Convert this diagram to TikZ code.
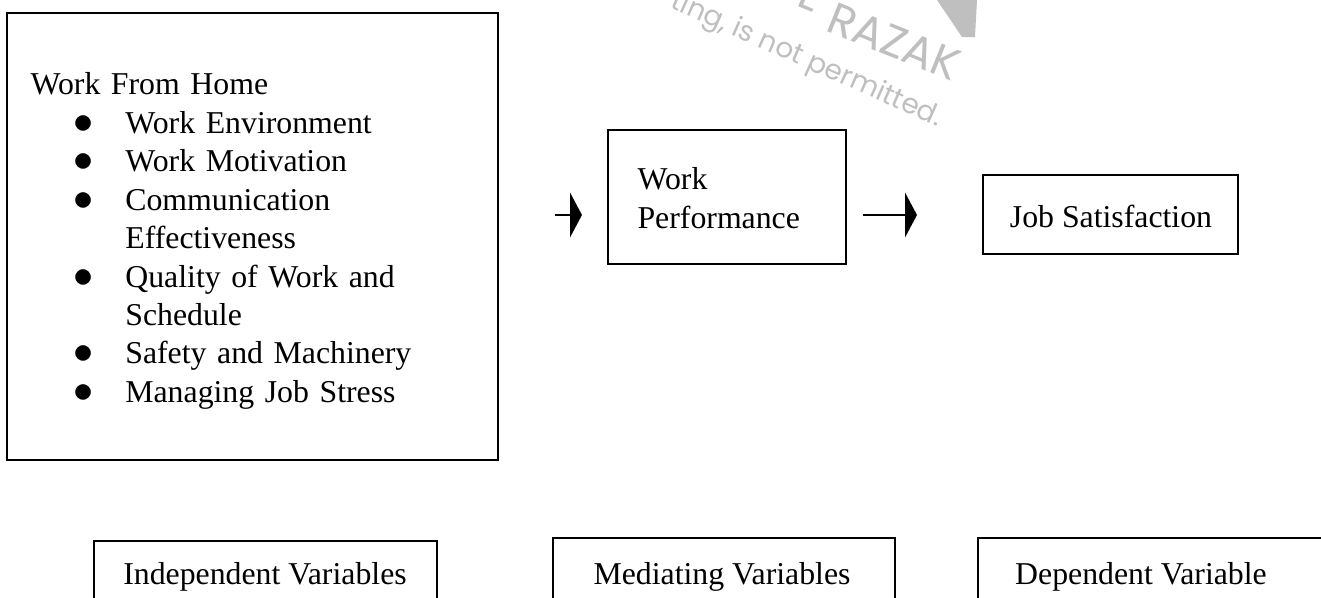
\documentclass[tikz,border=0pt]{standalone}
\usepackage{fontspec}
\setmainfont{Liberation Serif}
\newfontfamily\wmfont{Poppins}
\usepackage{enumitem}
\usetikzlibrary{arrows.meta,fit}

\begin{document}
\begin{tikzpicture}[x=0.0126cm,y=-0.0126cm,
    every node/.style={font=\fontsize{11.4}{13.8}\selectfont},
    box/.style={draw,line width=0.8pt,inner sep=0pt},
    arr/.style={line width=1pt,-{Triangle[length=4.3pt,width=16pt]}},
    wm/.style={color=black!25,rotate=-22,inner sep=0pt}]
  \useasboundingbox (0,0) rectangle (1321,598);

  % watermark
  \fill[color=black!25] (937,0) -- (977,0) -- (975,37) -- (962,37) -- cycle;
  \node[wm,anchor=base east,font=\wmfont\fontsize{16}{18}\selectfont] (wml) at (814,13) {L};
  \node[wm,anchor=base west,font=\wmfont\fontsize{16}{18}\selectfont] (wmr) at (824,30) {RAZAK};
  \node[wm,rotate=-2,anchor=base east,font=\wmfont\fontsize{10}{12}\selectfont] (wmp) at (938,127) {ting, is not permitted.};

  % top row
  \node[box,fit={(7,13) (498,460)}] (wfh) {};
  \node[anchor=north west,text width=165pt,align=left,inner sep=0pt] (wfhtext) at (30,72) {%
    \noindent Work From Home
    \begin{itemize}[leftmargin=34pt,labelwidth=0pt,labelsep=15pt,
        label={\makebox[0pt]{\fontsize{13.5}{13.8}\selectfont$\bullet$}},
        topsep=0pt,partopsep=0pt,itemsep=0pt,parsep=0pt]
      \item Work Environment
      \item Work Motivation
      \item Communication\newline Effectiveness
      \item Quality of Work and\newline Schedule
      \item Safety and Machinery
      \item Managing Job Stress
    \end{itemize}};

  \node[box,fit={(608,130) (846,264)}] (wp) {};
  \node[anchor=west,align=left,inner sep=0pt] (wptext) at (637,198) {Work\\Performance};

  \node[box,fit={(983,175) (1238,254)}] (js) {};
  \node[inner sep=0pt] (jstext) at (1111,216) {Job Satisfaction};

  \coordinate (a1s) at (555,215);
  \coordinate (a1e) at (582,215);
  \coordinate (a2s) at (863,215);
  \coordinate (a2e) at (917,215);
  \draw[arr] (a1s) -- (a1e);
  \draw[arr] (a2s) -- (a2e);

  % bottom row
  \node[box,fit={(94,541) (437,616)}] (iv) {};
  \node[inner sep=0pt] (ivtext) at (265,577) {Independent Variables};
  \node[box,fit={(553,538) (895,616)}] (mv) {};
  \node[inner sep=0pt] (mvtext) at (722,577) {Mediating Variables};
  \node[box,fit={(978,538) (1325,616)}] (dv) {};
  \node[inner sep=0pt] (dvtext) at (1141,577) {Dependent Variable};
\end{tikzpicture}
\end{document}
